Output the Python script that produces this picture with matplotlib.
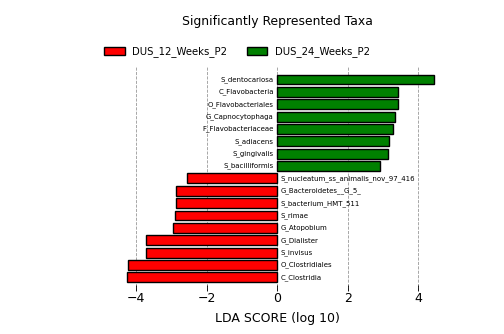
import numpy as np
import matplotlib
matplotlib.use("Agg")
import matplotlib.pyplot as plt

# taxa, bottom to top
taxa = ["C_Clostridia", "O_Clostridiales", "S_invisus", "G_Dialister",
        "G_Atopobium", "S_rimae", "S_bacterium_HMT_511", "G_Bacteroidetes__G_5_",
        "S_nucleatum_ss_animalis_nov_97_416",
        "S_bacilliformis", "S_gingivalis", "S_adiacens", "F_Flavobacteriaceae",
        "G_Capnocytophaga", "O_Flavobacteriales", "C_Flavobacteria", "S_dentocariosa"]
lda = [-4.25, -4.22, -3.71, -3.71, -2.94, -2.91, -2.88, -2.88, -2.56,
       2.90, 3.13, 3.16, 3.28, 3.33, 3.41, 3.41, 4.44]
groups = ["DUS_12_Weeks_P2", "DUS_24_Weeks_P2"]
colors = {"DUS_12_Weeks_P2": "#FF0000", "DUS_24_Weeks_P2": "#008000"}
xticks = [-4, -2, 0, 2, 4]

fig = plt.figure(figsize=(5.04, 3.34), dpi=100)
ax = fig.add_axes([0.2, 0.13, 0.7, 0.669], frame_on=False)

y = np.arange(len(taxa))
for i, (t, v) in enumerate(zip(taxa, lda)):
    g = groups[0] if v < 0 else groups[1]
    ax.barh(i, v, height=0.8, color=colors[g], edgecolor="black",
            linewidth=1, align="center", label=g)
    if v < 0:
        ax.text(0.1, i, t, ha="left", va="center", fontsize=5)
    else:
        ax.text(-0.1, i, t, ha="right", va="center", fontsize=5)

ax.set_xlim(-5, 5)
ax.set_ylim(-1.07, 17.0)
ax.set_xticks(xticks)
ax.set_xticklabels(["\u22124", "\u22122", "0", "2", "4"], fontsize=9)
ax.set_yticks([])
ax.tick_params(axis="x", direction="in", length=4, width=0.6, top=False, pad=1)
ax.xaxis.grid(True, linestyle="--", color="#999999", linewidth=0.6)
ax.set_axisbelow(True)
ax.set_xlabel("LDA SCORE (log 10)", fontsize=9, labelpad=5)

handles = [plt.Rectangle((0, 0), 1, 1, facecolor=colors[g], edgecolor="black", linewidth=1)
           for g in groups]
fig.legend(handles, groups, loc="center", bbox_to_anchor=(237 / 504, 1 - 52 / 334),
           ncol=2, frameon=False, fontsize=7.3, handlelength=2.0, handleheight=0.7,
           handletextpad=0.7, columnspacing=2.0)
fig.text(0.55, 1 - 22 / 334, "Significantly Represented Taxa", ha="center",
         va="center", fontsize=8.9)

plt.savefig("out.png", dpi=100)
